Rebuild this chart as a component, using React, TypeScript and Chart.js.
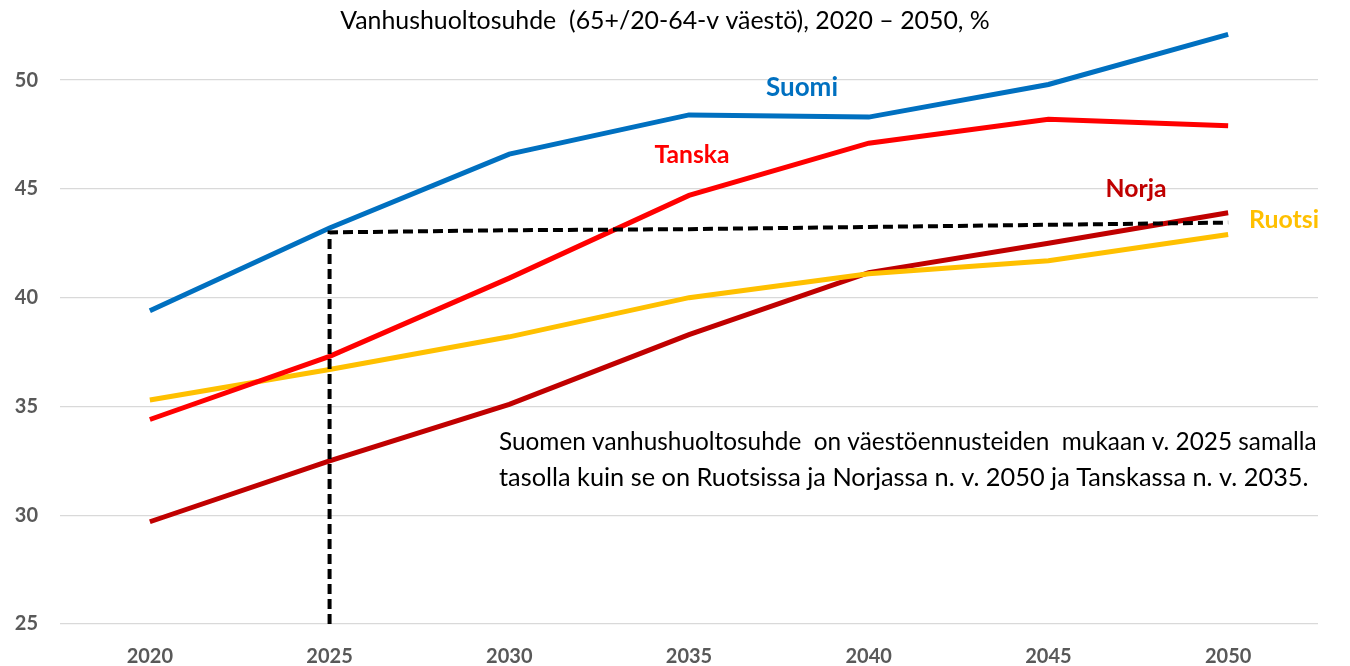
import React, { useEffect, useRef } from "react";
import { Chart, registerables } from "chart.js";

Chart.register(...registerables);

const years = ["2020", "2025", "2030", "2035", "2040", "2045", "2050"];
const suomi = [39.4, 43.2, 46.6, 48.4, 48.3, 49.8, 52.1];
const tanska = [34.4, 37.3, 40.9, 44.7, 47.1, 48.2, 47.9];
const ruotsi = [35.3, 36.7, 38.2, 40.0, 41.1, 41.7, 42.9];
const norja = [29.7, 32.5, 35.1, 38.3, 41.15, 42.5, 43.9];
const refYears = ["2025", "2025", "2030", "2035", "2040", "2045", "2050"];
const refValues = [25, 43.0, 43.1, 43.15, 43.25, 43.35, 43.45];
const yTicks = [25, 30, 35, 40, 45, 50];

const titleText = "Vanhushuoltosuhde  (65+/20-64-v väestö), 2020 – 2050, %";
const noteLines = [
  "Suomen vanhushuoltosuhde  on väestöennusteiden  mukaan v. 2025 samalla",
  "tasolla kuin se on Ruotsissa ja Norjassa n. v. 2050 ja Tanskassa n. v. 2035.",
];
const seriesLabels = [
  { text: "Suomi", color: "#0070C0", x: 802, y: 88, w: 72 },
  { text: "Tanska", color: "#FF0000", x: 692, y: 155, w: 75 },
  { text: "Norja", color: "#C00000", x: 1136, y: 189, w: 61 },
  { text: "Ruotsi", color: "#FFC000", x: 1284, y: 220, w: 70 },
];

const FONT = "Lato, 'Open Sans', sans-serif";

function fitText(ctx: CanvasRenderingContext2D, text: string, weight: string, size: number, targetW?: number) {
  ctx.font = `${weight} ${size}px ${FONT}`;
  if (targetW) {
    const w = ctx.measureText(text).width;
    const s = size * (targetW / w);
    ctx.font = `${weight} ${s}px ${FONT}`;
  }
}

const textPlugin = {
  id: "textPlugin",
  afterDraw(chart: any) {
    const ctx = chart.ctx as CanvasRenderingContext2D;
    ctx.save();
    ctx.textBaseline = "middle";
    ctx.fillStyle = "#000000";
    ctx.textAlign = "center";
    fitText(ctx, titleText, "normal", 20, 650);
    ctx.fillText(titleText, 665, 21);
    for (const l of seriesLabels) {
      ctx.fillStyle = l.color;
      fitText(ctx, l.text, "bold", 22, l.w);
      ctx.fillText(l.text, l.x, l.y);
    }
    ctx.fillStyle = "#000000";
    ctx.textAlign = "left";
    fitText(ctx, noteLines[0], "normal", 22, 818);
    ctx.fillText(noteLines[0], 499, 442);
    fitText(ctx, noteLines[1], "normal", 22, 810);
    ctx.fillText(noteLines[1], 499, 478);
    ctx.restore();
  },
};

export default function App() {
  const ref = useRef<HTMLCanvasElement | null>(null);
  useEffect(() => {
    if (!ref.current) return;
    const lineDs = (label: string, data: number[], color: string) => ({
      label,
      data,
      borderColor: color,
      backgroundColor: color,
      borderWidth: 5,
      pointRadius: 0,
      tension: 0,
      fill: false,
      clip: false,
      order: 1,
    });
    const chart = new Chart(ref.current, {
      type: "line",
      data: {
        labels: years,
        datasets: [
          lineDs("Suomi", suomi, "#0070C0"),
          lineDs("Tanska", tanska, "#FF0000"),
          lineDs("Ruotsi", ruotsi, "#FFC000"),
          lineDs("Norja", norja, "#C00000"),
          {
            label: "ref",
            data: refYears.map((x, i) => ({ x, y: refValues[i] })),
            borderColor: "#000000",
            backgroundColor: "#000000",
            borderWidth: 4,
            borderDash: [10, 5],
            pointRadius: 0,
            tension: 0,
            fill: false,
            order: 0,
          } as any,
        ],
      },
      options: {
        responsive: false,
        animation: false,
        maintainAspectRatio: false,
        layout: { padding: { top: 15, right: 32, left: 0, bottom: 0 } },
        plugins: {
          legend: { display: false },
          tooltip: { enabled: false },
          title: { display: false },
        },
        scales: {
          x: {
            type: "category",
            offset: true,
            grid: { display: false, drawTicks: false },
            border: { display: false },
            ticks: {
              color: "#595959",
              font: { family: FONT, size: 20, weight: "bold" },
              padding: 21,
              maxRotation: 0,
            },
            afterFit(scale: any) {
              scale.height = 42;
            },
          },
          y: {
            min: 25,
            max: 52.12,
            grid: { color: "#D9D9D9", lineWidth: 1.3, drawTicks: false },
            border: { display: false },
            ticks: {
              stepSize: 5,
              includeBounds: false,
              color: "#595959",
              font: { family: FONT, size: 20, weight: "bold" },
              padding: 22,
              callback: (v: any) => (yTicks.includes(Number(v)) ? String(v) : ""),
            },
            afterFit(scale: any) {
              scale.width = 60;
            },
          },
        },
      },
      plugins: [textPlugin],
    });
    return () => chart.destroy();
  }, []);
  return (
    <div style={{ position: "fixed", left: 0, top: 0, width: 1350, height: 666, background: "#fff" }}>
      <canvas ref={ref} width={1350} height={666} style={{ width: 1350, height: 666 }} />
    </div>
  );
}
